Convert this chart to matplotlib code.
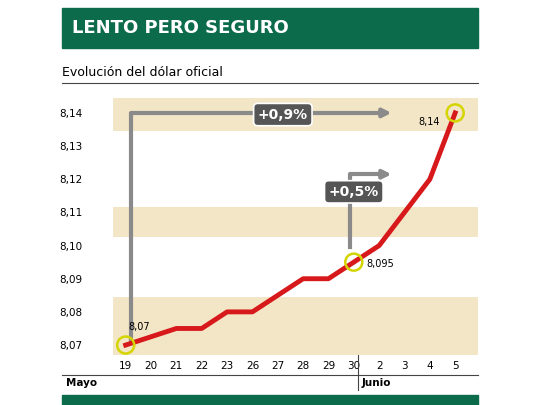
import matplotlib
matplotlib.use("Agg")
import matplotlib.pyplot as plt

dias = ["19", "20", "21", "22", "23", "26", "27", "28", "29", "30", "2", "3", "4", "5"]
valores = [8.07, 8.0725, 8.075, 8.075, 8.08, 8.08, 8.085, 8.09, 8.09, 8.095, 8.10, 8.11, 8.12, 8.14]
yticks = [8.07, 8.08, 8.09, 8.10, 8.11, 8.12, 8.13, 8.14]
bandas = [(8.067, 8.0845), (8.1025, 8.1115), (8.1345, 8.1445)]
destacados = [0, 9, 13]

VERDE = "#0b6b4a"
GRIS = "#8a8a8a"

fig = plt.figure(figsize=(5.4, 4.05), dpi=100)
fig.patches.append(plt.Rectangle((62/540, 1-48/405), 416/540, 40/405, transform=fig.transFigure, color=VERDE))
fig.text(72/540, 1-28/405, "LENTO PERO SEGURO", color="white", fontsize=13, fontweight="bold", va="center")
fig.text(62/540, 1-72/405, "Evolución del dólar oficial", fontsize=9, va="center")
fig.add_artist(plt.Line2D([62/540, 478/540], [1-83/405, 1-83/405], color="#444", lw=0.8))
fig.patches.append(plt.Rectangle((62/540, 0), 416/540, 10/405, transform=fig.transFigure, color=VERDE))
fig.add_artist(plt.Line2D([62/540, 478/540], [1-375/405, 1-375/405], color="#444", lw=0.8))
fig.add_artist(plt.Line2D([358/540, 358/540], [1-355/405, 1-390/405], color="#444", lw=0.8))
fig.text(66/540, 1-383/405, "Mayo", fontsize=7.5, fontweight="bold", va="center")
fig.text(362/540, 1-383/405, "Junio", fontsize=7.5, fontweight="bold", va="center")

ax = fig.add_axes([113/540, 1-355/405, 365/540, 260/405])
x = list(range(len(dias)))
for lo, hi in bandas:
    ax.axhspan(lo, hi, color="#f3e6c6", lw=0, zorder=0)
ax.set_xlim(-0.5, 13.9)
ax.set_ylim(8.067, 8.1454)
ax.set_yticks(yticks)
ax.set_yticklabels([f"{v:.2f}".replace(".", ",") for v in yticks], fontsize=7.5)
ax.set_xticks(x)
ax.set_xticklabels(dias, fontsize=7.5)
ax.tick_params(length=0, pad=4)
ax.yaxis.set_tick_params(pad=22)
for s in ax.spines.values():
    s.set_visible(False)

# flechas
ax.plot([0.2, 0.2, 10.2], [8.071, 8.14, 8.14], color=GRIS, lw=3, zorder=2, solid_joinstyle="round")
ax.annotate("", xy=(10.6, 8.14), xytext=(10.0, 8.14),
            arrowprops=dict(arrowstyle="-|>", color=GRIS, lw=3, mutation_scale=12))
ax.plot([8.85, 8.85, 10.2], [8.0995, 8.1215, 8.1215], color=GRIS, lw=3, zorder=2)
ax.annotate("", xy=(10.6, 8.1215), xytext=(10.0, 8.1215),
            arrowprops=dict(arrowstyle="-|>", color=GRIS, lw=3, mutation_scale=12))
ax.text(6.2, 8.1395, "+0,9%", color="white", fontsize=10, fontweight="bold", ha="center", va="center",
        bbox=dict(boxstyle="round,pad=0.3", fc="#555555", ec="white", lw=1.2), zorder=5)
ax.text(9.0, 8.1162, "+0,5%", color="white", fontsize=10, fontweight="bold", ha="center", va="center",
        bbox=dict(boxstyle="round,pad=0.3", fc="#555555", ec="white", lw=1.2), zorder=5)

ax.plot(x, valores, color="#d7191c", lw=3.5, zorder=3)
ax.scatter([x[i] for i in destacados], [valores[i] for i in destacados], s=150,
           facecolors="none", edgecolors="#d4d400", lw=1.8, zorder=4)
ax.text(0.1, 8.0745, "8,07", fontsize=7, ha="left", zorder=5)
ax.text(9.5, 8.0935, "8,095", fontsize=7, ha="left", zorder=5)
ax.text(12.4, 8.1365, "8,14", fontsize=7, ha="right", zorder=5)

fig.savefig("out.png", dpi=100)
